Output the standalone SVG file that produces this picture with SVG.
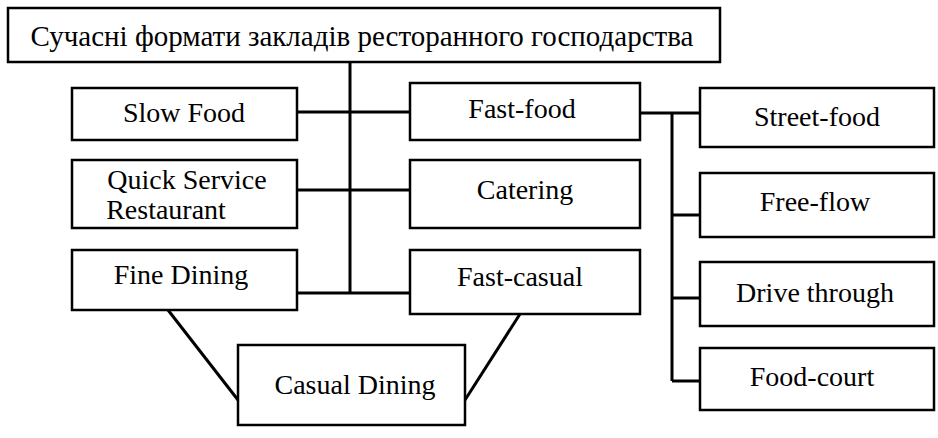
<svg xmlns="http://www.w3.org/2000/svg" width="938" height="438" viewBox="0 0 938 438">
<style>
rect{fill:#fff;stroke:#000;stroke-width:2.5}
text{font-family:"Liberation Serif",serif;font-size:28px;text-anchor:middle;fill:#000}
.c line{stroke:#000;stroke-width:3}
</style>
<rect x="0" y="0" width="938" height="438" style="stroke:none"/>
<g class="c">
<line x1="350" y1="62" x2="350" y2="293"/>
<line x1="297" y1="112" x2="410" y2="112"/>
<line x1="297" y1="190" x2="410" y2="190"/>
<line x1="297" y1="293" x2="410" y2="293"/>
<line x1="168" y1="310" x2="238" y2="400"/>
<line x1="520" y1="314" x2="465" y2="400"/>
<line x1="640" y1="113" x2="700" y2="113"/>
<line x1="672" y1="113" x2="672" y2="381"/>
<line x1="672" y1="215" x2="700" y2="215"/>
<line x1="672" y1="298" x2="700" y2="298"/>
<line x1="672" y1="381" x2="700" y2="381"/>
</g>
<g id="title"><rect x="8" y="8" width="712" height="54"/><text x="362" y="46" style="font-size:29px">Сучасні формати закладів ресторанного господарства</text></g>
<g id="slow"><rect x="72" y="88" width="225" height="52"/><text x="184" y="122">Slow Food</text></g>
<g id="qsr"><rect x="72" y="160" width="225" height="68"/><text x="187" y="189">Quick Service</text><text x="166" y="219">Restaurant</text></g>
<g id="fine"><rect x="72" y="250" width="225" height="60"/><text x="181" y="284">Fine Dining</text></g>
<g id="fastfood"><rect x="410" y="83" width="230" height="57"/><text x="522" y="118">Fast-food</text></g>
<g id="catering"><rect x="410" y="160" width="230" height="68"/><text x="525" y="199">Catering</text></g>
<g id="fastcasual"><rect x="410" y="250" width="230" height="64"/><text x="520" y="286">Fast-casual</text></g>
<g id="casual"><rect x="238" y="345" width="227" height="80"/><text x="355" y="394">Casual Dining</text></g>
<g id="street"><rect x="700" y="88" width="234" height="59"/><text x="817" y="126">Street-food</text></g>
<g id="free"><rect x="700" y="173" width="234" height="64"/><text x="815" y="211">Free-flow</text></g>
<g id="drive"><rect x="700" y="262" width="234" height="64"/><text x="815" y="302">Drive through</text></g>
<g id="court"><rect x="700" y="348" width="234" height="62"/><text x="812" y="386">Food-court</text></g>
</svg>
